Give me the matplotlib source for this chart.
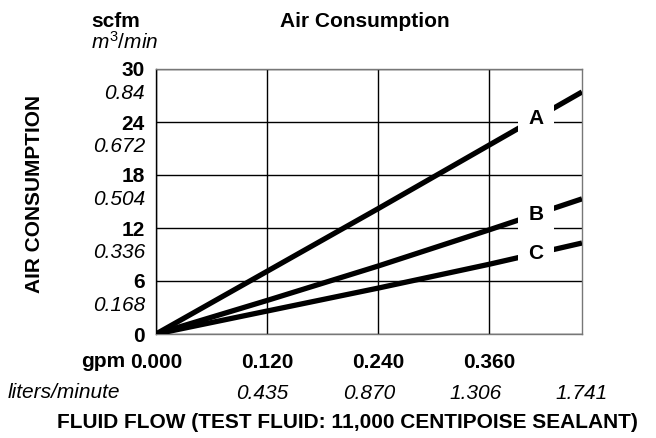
import matplotlib
matplotlib.use("Agg")
import matplotlib.pyplot as plt
import numpy as np

plt.rcParams['font.family'] = ['Liberation Sans', 'DejaVu Sans']
plt.rcParams['mathtext.fontset'] = 'custom'
plt.rcParams['mathtext.it'] = 'Liberation Sans:italic'
plt.rcParams['mathtext.rm'] = 'Liberation Sans'

# ---- data ----
flow_gpm = [0.0, 0.12, 0.24, 0.36, 0.46]
series_A = [0.0, 7.1, 14.2, 21.4, 27.4]
series_B = [0.0, 3.8, 7.7, 11.8, 15.3]
series_C = [0.0, 2.6, 5.2, 7.9, 10.3]
series_names = ["A", "B", "C"]
label_flow = 0.41

scfm_ticks = [0, 6, 12, 18, 24, 30]
m3min_labels = ["0.168", "0.336", "0.504", "0.672", "0.84"]
gpm_ticks = [0.0, 0.12, 0.24, 0.36]
gpm_labels = ["0.000", "0.120", "0.240", "0.360"]
lpm_values = [0.435, 0.870, 1.306, 1.741]
lpm_labels = ["0.435", "0.870", "1.306", "1.741"]
GAL_TO_L = 3.7854

W, H = 656, 438
fig = plt.figure(figsize=(W / 100, H / 100), dpi=100)
L, R, T, B = 156, 582, 69, 334
ax = fig.add_axes([L / W, 1 - B / H, (R - L) / W, (B - T) / H])

FS = 15
ax.set_xlim(0, flow_gpm[-1])
ax.set_ylim(scfm_ticks[0], scfm_ticks[-1])

for vals, name in zip([series_A, series_B, series_C], series_names):
    ax.plot(flow_gpm, vals, color='black', lw=3.8, solid_capstyle='butt', zorder=3)
    yl = np.interp(label_flow, flow_gpm, vals)
    ax.text(label_flow, yl, name, fontsize=FS, fontweight='bold', ha='center', va='center',
            zorder=4, bbox=dict(boxstyle='square,pad=0.5', fc='white', ec='none'))

# y ticks
ax.set_yticks(scfm_ticks)
ax.set_yticklabels([str(v) for v in scfm_ticks], fontsize=FS, fontweight='bold')
ax.set_yticks([v - 2.6 for v in scfm_ticks[1:]], minor=True)
ax.set_yticklabels(m3min_labels, minor=True, fontsize=FS, fontstyle='italic')
ax.tick_params(axis='y', which='both', length=0, pad=8)

# x ticks
ax.set_xticks(gpm_ticks)
ax.set_xticklabels(gpm_labels, fontsize=FS, fontweight='bold')
ax.set_xticks([v / GAL_TO_L for v in lpm_values], minor=True)
ax.set_xticklabels(lpm_labels, minor=True, fontsize=FS, fontstyle='italic')
ax.tick_params(axis='x', which='major', length=0, pad=14)
ax.tick_params(axis='x', which='minor', length=0, pad=36)

ax.set_axisbelow(True)
ax.grid(True, which='major', color='black', lw=1.0)
for s in ['top', 'right', 'bottom']:
    ax.spines[s].set_color('#777777')
    ax.spines[s].set_linewidth(1.0)
ax.spines['left'].set_color('black')
ax.spines['left'].set_linewidth(1.0)

def px(x, y):
    return x / W, 1 - y / H

fig.text(*px(91, 27), "scfm", fontsize=FS, fontweight='bold', ha='left', va='baseline')
fig.text(*px(91, 49), r"$m^{\mathrm{3}}\mathit{/min}$", fontsize=FS, ha='left', va='baseline')
fig.text(*px(365, 27), "Air Consumption", fontsize=FS, fontweight='bold', ha='center', va='baseline')
fig.text(*px(35, 194), "AIR CONSUMPTION", fontsize=FS, fontweight='bold', ha='center', va='center', rotation=90)
fig.text(*px(125, 367), "gpm", fontsize=FS, fontweight='bold', ha='right', va='baseline')
fig.text(*px(8, 398), "liters/minute", fontsize=FS, fontstyle='italic', ha='left', va='baseline')
fig.text(*px(347, 428), "FLUID FLOW (TEST FLUID: 11,000 CENTIPOISE SEALANT)", fontsize=FS,
         fontweight='bold', ha='center', va='baseline')

fig.savefig("out.png", dpi=100)
